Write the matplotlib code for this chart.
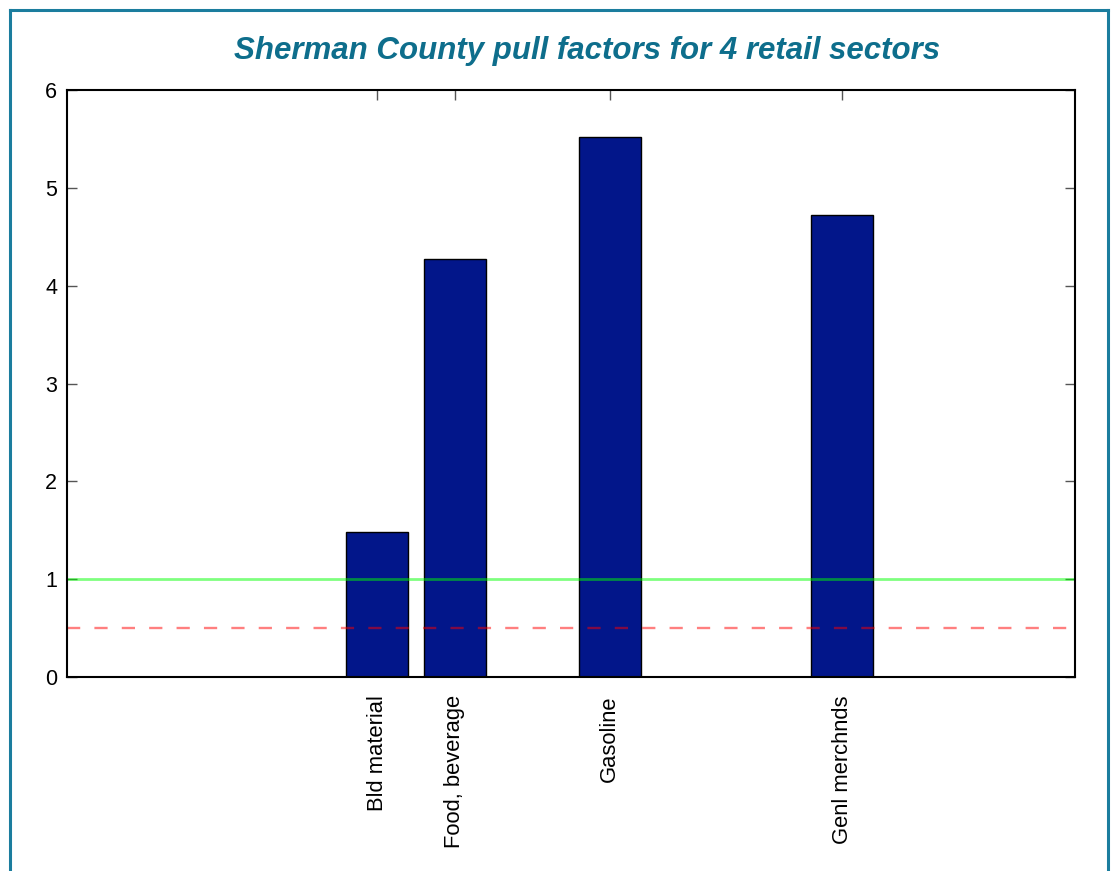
import matplotlib.pyplot as plt
from matplotlib.lines import Line2D
from matplotlib import font_manager

# data
sectors = ["Bld material", "Food, beverage", "Gasoline", "Genl merchnds"]
slots = [4, 5, 7, 10]          # bar slots on a 0..13 axis
pull = [1.48, 4.27, 5.52, 4.72]
par_line = 1.0
low_line = 0.5

names = {f.name for f in font_manager.fontManager.ttflist}
title_font = "Liberation Sans Narrow" if "Liberation Sans Narrow" in names else "Liberation Sans"

plt.rcParams['font.family'] = ['Liberation Sans', 'DejaVu Sans']

fig = plt.figure(figsize=(11.14, 8.71), dpi=100)
ax = fig.add_axes([67/1114, 1 - 677/871, 1008/1114, 587/871])

ax.bar(slots, pull, width=0.8, color="#02168a", edgecolor="black", linewidth=1.0, zorder=2)
ax.axhline(par_line, color=(0, 1, 0), alpha=0.5, lw=2, zorder=3)
ax.axhline(low_line, color=(1, 0, 0), alpha=0.5, lw=1.7, ls=(0, (5.6, 6.0)), zorder=3)

ax.set_xlim(0, 13)
ax.set_ylim(0, 6)
ax.set_yticks(range(0, 7))
ax.set_xticks(slots)
ax.set_xticklabels(sectors, rotation=90, fontsize=15.8)
ax.tick_params(axis='y', labelsize=15.5, direction='in', length=7, width=1,
               color='#555555', right=True, pad=7)
ax.tick_params(axis='x', direction='in', length=7, width=1, color='#555555',
               top=True, bottom=True, pad=13)
for s in ax.spines.values():
    s.set_linewidth(1.5)
    s.set_zorder(5)

fig.text(587/1114, 1 - 51/871, "Sherman County pull factors for 4 retail sectors",
         ha='center', va='center', fontsize=22.5, fontweight='bold', fontstyle='italic',
         color="#0e6e8c", family=title_font)

# teal frame round the panel
fc = "#1b7d9e"
tr = fig.transFigure
fig.add_artist(Line2D([10/1114, 10/1114], [0, 1 - 10/871], color=fc, lw=2.2, transform=tr))
fig.add_artist(Line2D([1108/1114, 1108/1114], [0, 1 - 10/871], color=fc, lw=2.2, transform=tr))
fig.add_artist(Line2D([10/1114, 1108/1114], [1 - 10/871, 1 - 10/871], color=fc, lw=2.2, transform=tr))

plt.savefig("out.png", dpi=100)
